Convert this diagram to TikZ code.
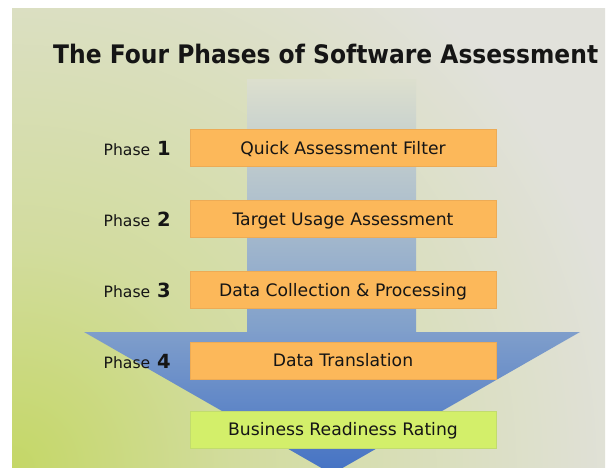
\documentclass[tikz,border=0pt]{standalone}
\usepackage{fontspec}
\setmainfont{DejaVu Sans}
\usepackage{graphicx}
\definecolor{bggray}{HTML}{E1E1DB}
\definecolor{bgmid}{HTML}{D2DC9E}
\definecolor{bggreen}{HTML}{C4D766}
\definecolor{shafttop}{HTML}{DCDFCE}
\definecolor{shaftbot}{HTML}{7F9FCB}
\definecolor{headtop}{HTML}{7F9ECB}
\definecolor{headbot}{HTML}{4472C4}
\definecolor{orangefill}{HTML}{FCB85A}
\definecolor{orangeline}{HTML}{EDAB55}
\definecolor{greenfill}{HTML}{D3EF6A}
\definecolor{greenline}{HTML}{C2DC6E}
\definecolor{txt}{HTML}{151515}
\pgfdeclareradialshading{bgrad}{\pgfpoint{0bp}{0bp}}{color(0bp)=(bggreen); color(7bp)=(bgmid); color(19.5bp)=(bggray); color(50bp)=(bggray)}
\tikzset{
  phasebox/.style={minimum width=306pt, minimum height=37pt, inner sep=0pt,
    fill=orangefill, draw=orangeline, line width=0.6pt,
    text height=12.4pt, text depth=0pt, text=txt,
    font=\fontsize{17.2}{20}\selectfont},
  resultbox/.style={phasebox, fill=greenfill, draw=greenline},
  phaselabel/.style={anchor=base east, inner sep=0pt, text=txt,
    font=\fontsize{15.6}{18}\selectfont},
}
\newcommand{\phnum}[1]{\hspace{7pt}\textbf{\fontsize{19.5}{20}\selectfont #1}}
\begin{document}
\begin{tikzpicture}[x=1pt,y=-1pt]
\useasboundingbox (0,0) rectangle (610,468);
\fill[white] (0,0) rectangle (610,468);
% background
\begin{scope}
  \clip (12,9) rectangle (605,468);
  \shade[shading=bgrad] (12,468) circle (800);
\end{scope}
% arrow shaft and head
\shade[top color=shafttop, bottom color=shaftbot] (247,80) rectangle (416,332.5);
\shade[top color=headtop, bottom color=headbot] (84,332) -- (580,332) -- (332,474) -- cycle;
% title
\node[anchor=base west, inner sep=0pt, text=txt] (title) at (53,64)
  {\resizebox{545pt}{\height}{\bfseries\fontsize{25.5}{30}\selectfont The Four Phases of Software Assessment}};
% boxes
\node[phasebox] (b1) at (343,148.1) {Quick Assessment Filter};
\node[phasebox] (b2) at (343,219.2) {Target Usage Assessment};
\node[phasebox] (b3) at (343,290) {Data Collection \& Processing};
\node[phasebox] (b4) at (343,360.5) {Data Translation};
\node[resultbox] (b5) at (343,429.4) {Business Readiness Rating};
% phase labels
\node[phaselabel] (p1) at (171,155.5) {Phase\phnum{1}};
\node[phaselabel] (p2) at (171,226.5) {Phase\phnum{2}};
\node[phaselabel] (p3) at (171,297.5) {Phase\phnum{3}};
\node[phaselabel] (p4) at (171,368) {Phase\phnum{4}};
\end{tikzpicture}
\end{document}
